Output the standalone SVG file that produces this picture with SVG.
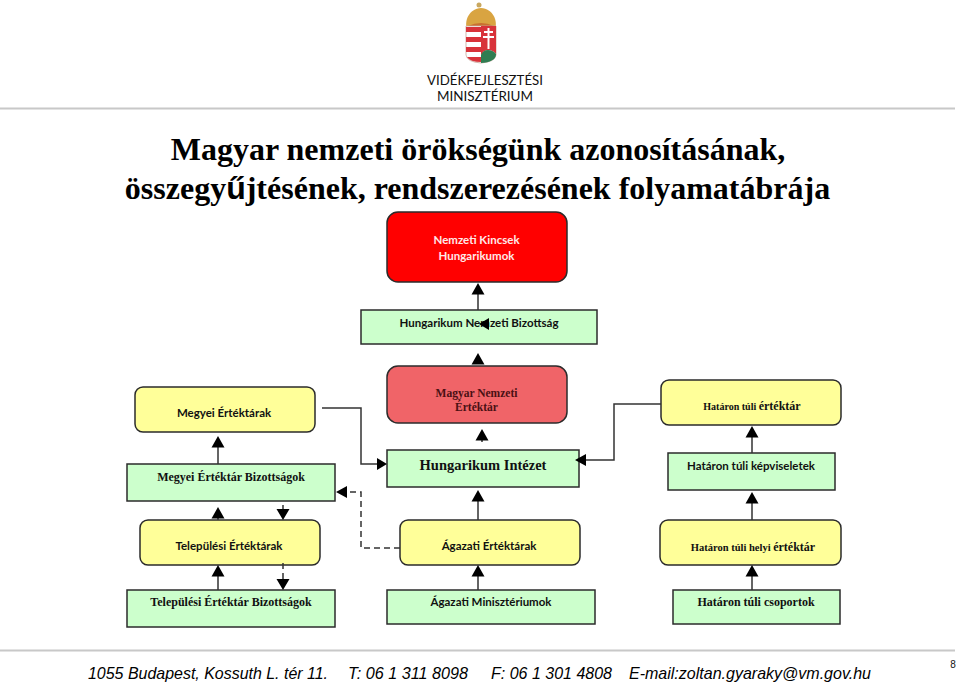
<svg xmlns="http://www.w3.org/2000/svg" width="960" height="687" viewBox="0 0 960 687">
<style>
.n{stroke:#2b2b2b;stroke-width:1.5}
.g{fill:#ccffcc}.y{fill:#ffff99}
text{text-anchor:middle;fill:#111}
.c{font-family:Lato,"Open Sans","Liberation Sans",sans-serif;font-weight:700;font-size:11.500px}
.s{font-family:"Liberation Serif",serif;font-weight:700}
.t{font-family:"Liberation Serif",serif;font-weight:700;font-size:32px;fill:#000}
.f{font-family:"Liberation Sans",sans-serif;font-style:italic;font-size:17px;fill:#000;text-anchor:start}
.l{stroke:#333;stroke-width:1.5;fill:none}
.d{stroke-dasharray:6 4}
.a{fill:#000}
</style>
<defs>
<path id="u" d="M0 0L-6.500 11.500L6.500 11.500Z"/>
</defs>
<rect width="960" height="687" fill="#fff"/>
<g id="logo">
<path d="M467 30C464 20 469 9 481 8C493 9 498 20 495 30Z" fill="#d9a441"/>
<path d="M468 26Q481 20 494 26V31H468Z" fill="#c9702f"/>
<circle cx="479" cy="5" r="2.500" fill="#c9a860"/>
<path d="M466 26H496V55Q495 62 481 63Q467 62 466 55Z" fill="#fff" stroke="#c9a79a" stroke-width=".8"/>
<path d="M466 27H481V32H466ZM466 37H481V42H466ZM466 47H481V52H466ZM467 57H481V62Q470 62 467 57Z" fill="#d8333a"/>
<path d="M481 26H496V54Q493 50 488 50Q483 50 481 56Z" fill="#d8333a"/>
<path d="M481 63V55Q483 50 488 50Q493 50 496 54V55Q495 62 481 63Z" fill="#2f7d52"/>
<path d="M487.500 28H489.500V31H493V33H489.500V36H494V38H489.500V49H487.500V38H483V36H487.500V33H484V31H487.500Z" fill="#fff"/>
<text x="485" y="85" font-family="Lato,'Open Sans',sans-serif" font-size="13.500" fill="#222" textLength="116" lengthAdjust="spacingAndGlyphs">VIDÉKFEJLESZTÉSI</text>
<text x="485" y="101" font-family="Lato,'Open Sans',sans-serif" font-size="13.500" fill="#222" textLength="96" lengthAdjust="spacingAndGlyphs">MINISZTÉRIUM</text>
</g>
<rect x="0" y="107.500" width="955" height="2" fill="#c8c8c8"/>
<g id="title">
<text class="t" x="478" y="160">Magyar nemzeti örökségünk azonosításának,</text>
<text class="t" x="477.500" y="199">összegy<tspan font-family="'Liberation Sans',sans-serif">ű</tspan>jtésének, rendszerezésének folyamatábrája</text>
</g>
<g id="nemzeti-kincsek"><rect class="n" x="387" y="212" width="180" height="70" rx="11" fill="#ff0000"/>
<text class="c" x="476.500" y="244" style="fill:#ffe9e9">Nemzeti Kincsek</text><text class="c" x="476.500" y="260" style="fill:#ffe9e9">Hungarikumok</text></g>
<g id="hungarikum-bizottsag"><rect class="n g" x="361" y="310" width="236" height="34"/>
<text class="c" x="479" y="327">Hungarikum Nemzeti Bizottság</text></g>
<g id="magyar-ertektar"><rect class="n" x="387" y="366" width="180" height="57" rx="11" fill="#f06468"/>
<text class="s" x="476.500" y="397" font-size="11.500" style="fill:#4a1014">Magyar Nemzeti</text><text class="s" x="476.500" y="411" font-size="11.500" style="fill:#4a1014">Értéktár</text></g>
<g id="megyei-ertektarak"><rect class="n y" x="135" y="387" width="180" height="45" rx="8"/>
<text class="c" x="224" y="417">Megyei Értéktárak</text></g>
<g id="hataron-ertektar"><rect class="n y" x="661" y="380" width="180" height="45" rx="8"/>
<text class="s" x="752" y="410" font-size="10">Határon túli <tspan font-size="12">értéktár</tspan></text></g>
<g id="megyei-bizottsagok"><rect class="n g" x="127" y="464" width="208" height="37"/>
<text class="s" x="231" y="481" font-size="12">Megyei Értéktár Bizottságok</text></g>
<g id="hungarikum-intezet"><rect class="n g" x="387" y="450" width="192" height="37"/>
<text class="s" x="483" y="470" font-size="14.500">Hungarikum Intézet</text></g>
<g id="hataron-kepviseletek"><rect class="n g" x="668" y="453" width="167" height="37"/>
<text class="c" x="751" y="470">Határon túli képviseletek</text></g>
<g id="telepulesi-ertektarak"><rect class="n y" x="140" y="520" width="180" height="45" rx="8"/>
<text class="c" x="229" y="550">Települési Értéktárak</text></g>
<g id="agazati-ertektarak"><rect class="n y" x="400" y="520" width="180" height="45" rx="8"/>
<text class="c" x="489" y="550">Ágazati Értéktárak</text></g>
<g id="hataron-helyi"><rect class="n y" x="660" y="520" width="181" height="45" rx="8"/>
<text class="s" x="753" y="551" font-size="10.500">Határon túli helyi <tspan font-size="12">értéktár</tspan></text></g>
<g id="telepulesi-bizottsagok"><rect class="n g" x="127" y="590" width="208" height="37"/>
<text class="s" x="231" y="606" font-size="12">Települési Értéktár Bizottságok</text></g>
<g id="agazati-miniszteriumok"><rect class="n g" x="387" y="590" width="208" height="34"/>
<text class="c" x="491" y="606">Ágazati Minisztériumok</text></g>
<g id="hataron-csoportok"><rect class="n g" x="673" y="590" width="167" height="34"/>
<text class="s" x="756" y="606" font-size="12">Határon túli csoportok</text></g>
<g id="connectors">
<path class="l" d="M478 310V290M482 442V438M218 464V445M752 453V435M218 520V515M283 505V512M218 590V573M478 520V498M478 590V572M752 520V500M752 590V572"/>
<path class="l" d="M322 408H361V464H378M661 404H614V460H586"/>
<path class="l d" d="M400 548H361V492H345M283 563V582"/>
<use class="a" href="#u" x="478" y="283"/>
<use class="a" href="#u" x="478" y="353"/>
<use class="a" href="#u" x="482" y="429"/>
<use class="a" href="#u" x="218" y="436"/>
<use class="a" href="#u" x="752" y="426"/>
<use class="a" href="#u" x="218" y="507"/>
<use class="a" href="#u" x="218" y="565"/>
<use class="a" href="#u" x="478" y="490"/>
<use class="a" href="#u" x="478" y="565"/>
<use class="a" href="#u" x="752" y="492"/>
<use class="a" href="#u" x="752" y="565"/>
<path class="a" d="M283 520L276.500 509H289.500ZM283 590L276.500 579H289.500ZM387 464L377 458V470ZM575 460L586 454V466ZM336 492L347 486V498ZM479 324L489 318V330Z"/>
</g>
<rect id="footer-rule" x="0" y="649.500" width="955" height="2" fill="#c8c8c8"/>
<g id="footer">
<text class="f" x="88" y="679" textLength="240" lengthAdjust="spacingAndGlyphs">1055 Budapest, Kossuth L. tér 11.</text>
<text class="f" x="348" y="679" textLength="120" lengthAdjust="spacingAndGlyphs">T: 06 1 311 8098</text>
<text class="f" x="491" y="679" textLength="121" lengthAdjust="spacingAndGlyphs">F: 06 1 301 4808</text>
<text class="f" x="629" y="679" textLength="242" lengthAdjust="spacingAndGlyphs">E-mail:zoltan.gyaraky@vm.gov.hu</text>
<text x="953" y="668" font-family="'Liberation Sans',sans-serif" font-size="10">8</text>
</g>
</svg>
